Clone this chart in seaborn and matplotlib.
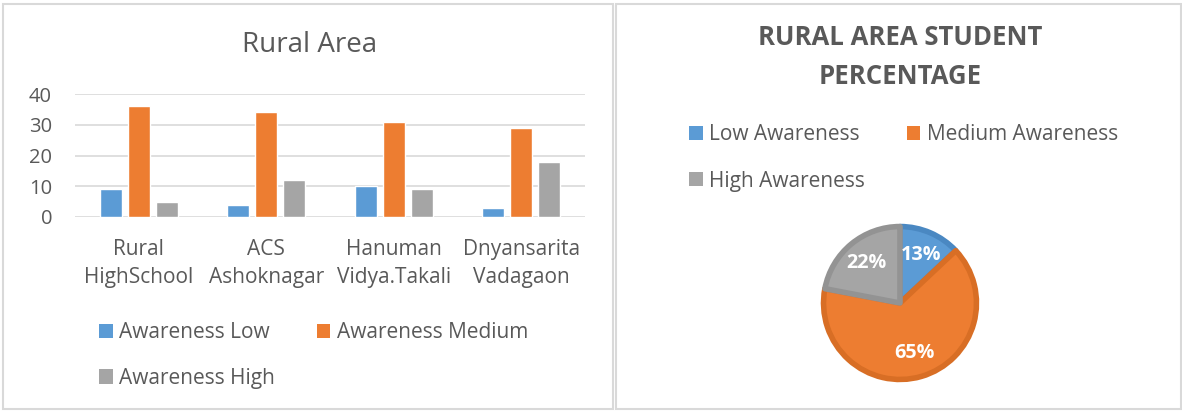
import matplotlib
matplotlib.use("Agg")
import matplotlib.pyplot as plt
import seaborn as sns
import pandas as pd
from matplotlib.patches import Rectangle, Patch

schools = ["Rural\nHighSchool", "ACS\nAshoknagar", "Hanuman\nVidya.Takali", "Dnyansarita\nVadagaon"]
series = ["Awareness Low", "Awareness Medium", "Awareness High"]
low = [9, 4, 10, 3]
medium = [36, 34, 31, 29]
high = [5, 12, 9, 18]

pie_labels = ["Low Awareness", "Medium Awareness", "High Awareness"]
pie_values = [13, 65, 22]

colors = ["#5B9BD5", "#ED7D31", "#A5A5A5"]
edge_colors = ["#4A88C2", "#D86E25", "#939393"]
text_color = "#595959"

sns.set_theme(style="white")
plt.rcParams['font.family'] = ['Open Sans', 'DejaVu Sans']

W, H = 1182, 412
fig = plt.figure(figsize=(W / 100, H / 100), dpi=100)

def fx(px):
    return px / W

def fy(py):
    return 1 - py / H

# panel borders
fig.patches.append(Rectangle((fx(3), fy(409)), fx(613) - fx(3), fy(4) - fy(409),
                             transform=fig.transFigure, fill=False, edgecolor="#D9D9D9", lw=1.5))
fig.patches.append(Rectangle((fx(616), fy(409)), fx(1181) - fx(616), fy(4) - fy(409),
                             transform=fig.transFigure, fill=False, edgecolor="#D9D9D9", lw=1.5))

# ---- bar chart ----
df = pd.DataFrame({
    "School": schools * 3,
    "Series": [series[0]] * 4 + [series[1]] * 4 + [series[2]] * 4,
    "Value": low + medium + high,
})
ax1 = fig.add_axes([fx(75), fy(217), fx(585) - fx(75), fy(94) - fy(217)])
sns.barplot(data=df, x="School", y="Value", hue="Series", palette=colors,
            width=0.66, gap=0.21, ax=ax1, legend=False, saturation=1)
ax1.set_ylim(0, 40)
ax1.set_yticks([0, 10, 20, 30, 40])
ax1.set_xlim(-0.5, 3.5)
ax1.grid(axis="y", color="#D9D9D9", lw=1.2)
ax1.set_axisbelow(True)
for s in ax1.spines.values():
    s.set_visible(False)
ax1.set_xlabel("")
ax1.set_ylabel("")
ax1.tick_params(axis="y", length=0, labelsize=14.5, labelcolor=text_color, pad=16.5)
ax1.tick_params(axis="x", length=0, labelsize=15, labelcolor=text_color, pad=16)
for lbl in ax1.get_xticklabels():
    lbl.set_linespacing(1.45)
fig.text(fx(310), fy(45), "Rural Area", ha="center", va="center", fontsize=20, color=text_color)

order1 = [0, 2, 1]  # row-major layout in a 2-column legend
handles1 = [Patch(facecolor=colors[i], edgecolor="none") for i in order1]
fig.legend(handles1, [series[i] for i in order1], loc="upper left", bbox_to_anchor=(fx(99), fy(322)),
           ncol=2, frameon=False, fontsize=15, labelcolor=text_color,
           handlelength=0.66, handleheight=0.66, handletextpad=0.3,
           columnspacing=2.0, labelspacing=1.19, borderaxespad=0, borderpad=0)

# ---- pie chart ----
cx, cy, r = 900, 303, 78
ax2 = fig.add_axes([fx(cx - r), fy(cy + r), fx(2 * r), fy(cy - r) - fy(cy + r)])
wedges, texts, autotexts = ax2.pie(pie_values, colors=colors, startangle=90, counterclock=False,
                                   autopct="%d%%", pctdistance=0.68,
                                   wedgeprops=dict(linewidth=4, joinstyle="round"),
                                   textprops=dict(color="white", fontsize=14.2, fontweight="bold"))
for w, ec in zip(wedges, edge_colors):
    w.set_edgecolor(ec)
ax2.set_xlim(-1.02, 1.02)
ax2.set_ylim(-1.02, 1.02)
ax2.axis("off")

fig.text(fx(900), fy(57), "RURAL AREA STUDENT\nPERCENTAGE", ha="center", va="center",
         fontsize=18.5, fontweight="bold", color=text_color, linespacing=1.55)

order2 = [0, 2, 1]
handles2 = [Patch(facecolor=colors[i], edgecolor="none") for i in order2]
fig.legend(handles2, [pie_labels[i] for i in order2], loc="upper left", bbox_to_anchor=(fx(689), fy(124)),
           ncol=2, frameon=False, fontsize=15, labelcolor=text_color,
           handlelength=0.66, handleheight=0.66, handletextpad=0.3,
           columnspacing=2.0, labelspacing=1.23, borderaxespad=0, borderpad=0)

fig.savefig("out.png", dpi=100)
